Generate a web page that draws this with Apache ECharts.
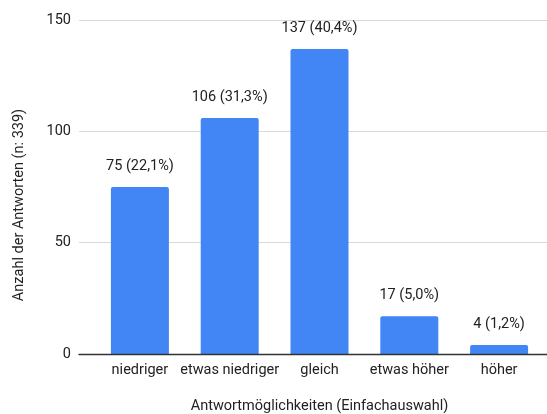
<!DOCTYPE html>
<html>
<head>
<meta charset="utf-8">
<script src="https://cdn.jsdelivr.net/npm/echarts@6/dist/echarts.min.js"></script>
<style>
  html, body { margin: 0; padding: 0; background: #fff; }
  #chart { width: 547px; height: 414px; }
</style>
</head>
<body>
<div id="chart"></div>
<script>
// Antwortverteilung (Einfachauswahl), n = 339
const categories = ['niedriger', 'etwas niedriger', 'gleich', 'etwas höher', 'höher'];
const counts = [75, 106, 137, 17, 4];
const shares = ['22,1%', '31,3%', '40,4%', '5,0%', '1,2%'];
const yTicks = [0, 50, 100, 150];

const FONT = 'Roboto, "Noto Sans", sans-serif';
const TEXT = '#222';

const chart = echarts.init(document.getElementById('chart'), null, { renderer: 'canvas' });

chart.setOption({
  animation: false,
  textStyle: { fontFamily: FONT },
  grid: [
    // bars
    { left: 95, right: 3, top: 20, bottom: 60, containLabel: false, outerBoundsMode: 'none' },
    // wider frame carrying the gridlines, the baseline and the y labels
    { left: 79, right: 0, top: 20, bottom: 60, containLabel: false, outerBoundsMode: 'none' }
  ],
  xAxis: [
    {
      type: 'category',
      gridIndex: 0,
      data: categories,
      axisLine: { show: false },
      axisTick: { show: false },
      axisLabel: { color: TEXT, fontSize: 14.5, fontFamily: FONT, margin: 9, interval: 0 },
      name: 'Antwortmöglichkeiten (Einfachauswahl)',
      nameLocation: 'middle',
      nameGap: 45,
      nameTextStyle: { color: TEXT, fontSize: 14.5, fontFamily: FONT }
    },
    {
      type: 'value',
      gridIndex: 1,
      min: 0, max: 1,
      axisLine: { show: true, onZero: false, lineStyle: { color: '#333', width: 1.3 } },
      axisTick: { show: false },
      axisLabel: { show: false },
      splitLine: { show: false },
      z: 5
    }
  ],
  yAxis: [
    {
      type: 'value',
      gridIndex: 0,
      min: yTicks[0], max: yTicks[yTicks.length - 1], interval: 50,
      axisLine: { show: false },
      axisTick: { show: false },
      axisLabel: { show: false },
      splitLine: { show: false }
    },
    {
      type: 'value',
      gridIndex: 1,
      min: yTicks[0], max: yTicks[yTicks.length - 1], interval: 50,
      axisLine: { show: false },
      axisTick: { show: false },
      axisLabel: { color: TEXT, fontSize: 14.5, fontFamily: FONT, margin: 8 },
      splitLine: { show: true, lineStyle: { color: '#d9d9d9', width: 1 } },
      name: 'Anzahl der Antworten (n: 339)',
      nameLocation: 'middle',
      nameGap: 52,
      nameTextStyle: { color: TEXT, fontSize: 14.5, fontFamily: FONT, padding: [0, 36, 0, 0] }
    }
  ],
  series: [
    {
      type: 'bar',
      xAxisIndex: 0,
      yAxisIndex: 0,
      data: counts,
      barWidth: 58,
      itemStyle: { color: '#4285f4', borderRadius: [2, 2, 0, 0] },
      label: {
        show: true,
        position: 'top',
        distance: 13,
        color: TEXT,
        fontSize: 14.5,
        fontFamily: FONT,
        formatter: p => p.value + ' (' + shares[p.dataIndex] + ')'
      },
      z: 3
    }
  ]
});
</script>
</body>
</html>
